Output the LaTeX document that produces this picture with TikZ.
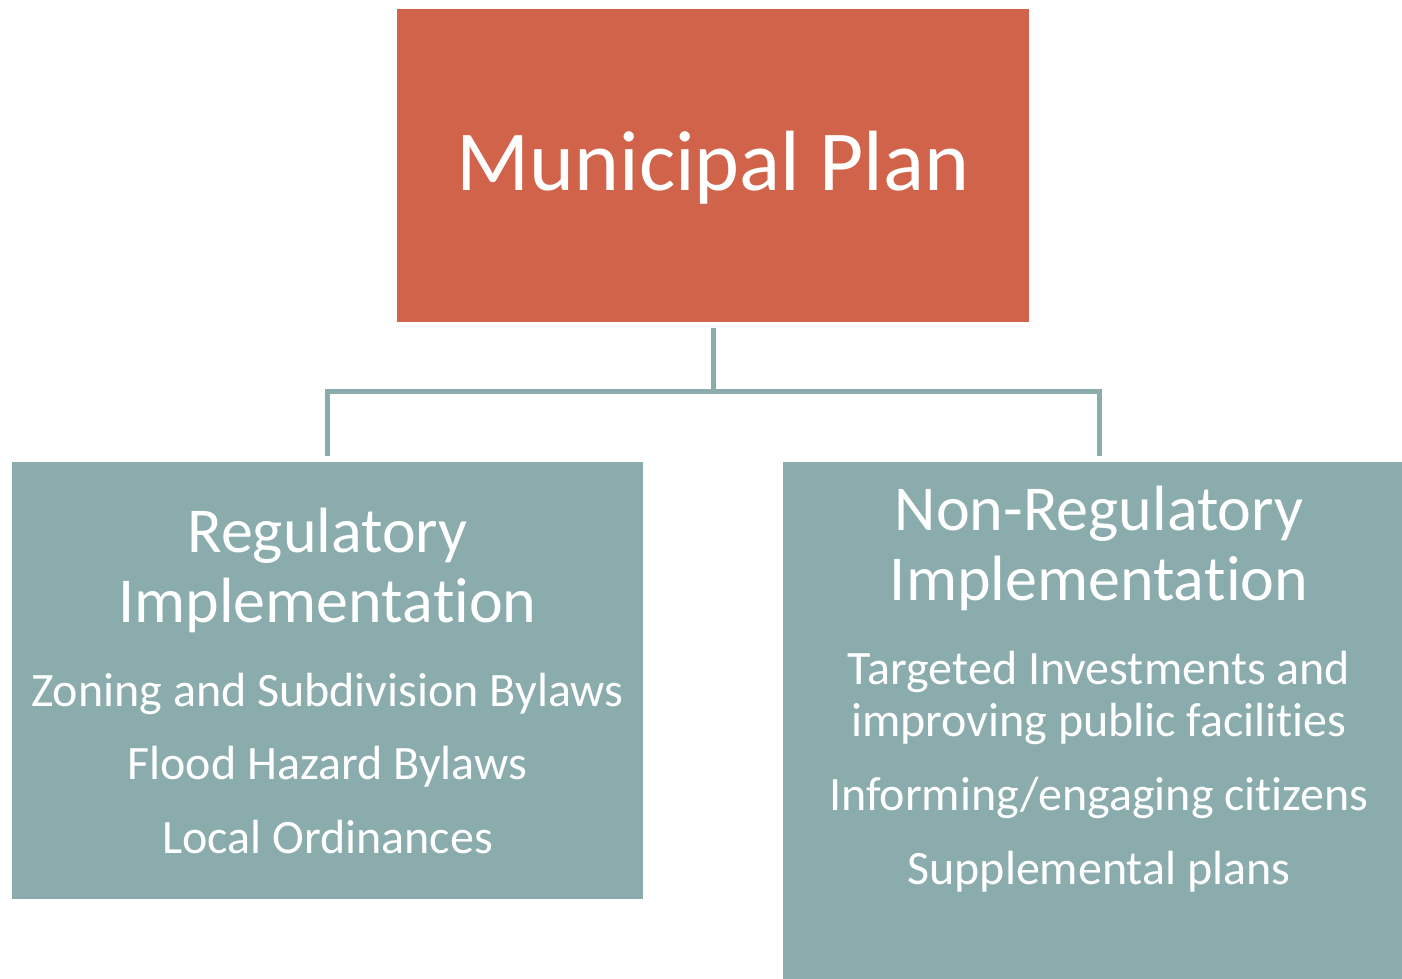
\documentclass[tikz,border=0pt]{standalone}
\usepackage{fontspec}
\setmainfont{Carlito}[RawFeature={-liga;-clig;-calt;-dlig}]
\definecolor{planorange}{RGB}{208,99,74}
\definecolor{planteal}{RGB}{139,172,172}
\begin{document}
\begin{tikzpicture}[x=1pt,y=-1pt,
  boxbase/.style={draw=none,rectangle,inner sep=0pt,anchor=north west},
  topbox/.style={boxbase,fill=planorange},
  subbox/.style={boxbase,fill=planteal},
  conn/.style={draw=planteal,line width=5pt},
  bigtxt/.style={text=white,inner sep=0pt,anchor=base,font=\fontsize{85.5}{100}\selectfont},
  headtxt/.style={text=white,inner sep=0pt,anchor=base,font=\fontsize{64}{75}\selectfont},
  itemtxt/.style={text=white,inner sep=0pt,anchor=base,font=\fontsize{48}{56}\selectfont}]
\useasboundingbox (0,0) rectangle (1402,978);
\node[topbox,minimum width=632pt,minimum height=313pt] (plan) at (397,9) {};
\node[subbox,minimum width=631pt,minimum height=437pt] (reg) at (12,462) {};
\node[subbox,minimum width=632pt,minimum height=540pt] (nonreg) at (783,462) {};
% texts
\node[bigtxt] (plant) at (713,190) {Municipal Plan};
\node[headtxt] (regh1) at (327.5,552) {Regulatory};
\node[headtxt] (regh2) at (327.5,622) {Implementa\kern0ptt\kern0pti\kern0pton};
\node[itemtxt] (regi1) at (327.5,706) {Zoning and Subdivision Bylaws};
\node[itemtxt] (regi2) at (327.5,779) {Flood Hazard Bylaws};
\node[itemtxt] (regi3) at (327.5,853) {Local Ordinances};
\node[headtxt] (nrh1) at (1099,530) {Non-Regulatory};
\node[headtxt] (nrh2) at (1099,600) {Implementa\kern0ptt\kern0pti\kern0pton};
\node[itemtxt] (nri1) at (1099,684) {Targeted Investments and};
\node[itemtxt] (nri2) at (1099,736) {improving public facili\kern0ptt\kern0pties};
\node[itemtxt] (nri3) at (1099,810) {Informing/engaging citizens};
\node[itemtxt] (nri4) at (1099,884) {Supplemental plans};
% connectors
\coordinate (junc) at ([yshift=-69pt]plan.south);
\draw[conn] ([yshift=-6pt]plan.south) -- (junc);
\draw[conn] ([yshift=6pt]reg.north) |- (junc) -| ([yshift=6pt]nonreg.north);
\end{tikzpicture}
\end{document}
